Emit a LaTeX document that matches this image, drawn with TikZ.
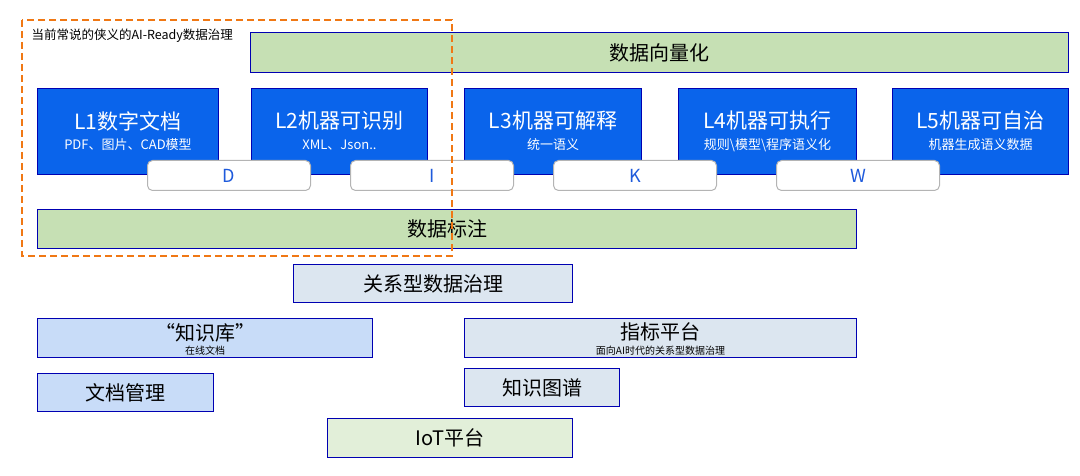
\documentclass[tikz,border=0pt]{standalone}
\usepackage{fontspec}
\setmainfont{Noto Sans CJK SC}
\begin{document}
\begin{tikzpicture}[x=1pt,y=-1pt,
 box/.style={draw=blue!70!black,line width=1pt,anchor=north west,inner sep=0pt},
 green/.style={box,fill={rgb,255:red,198;green,224;blue,180}},
 lgreen/.style={box,fill={rgb,255:red,226;green,239;blue,217}},
 gray/.style={box,fill={rgb,255:red,220;green,230;blue,240}},
 lblue/.style={box,fill={rgb,255:red,200;green,220;blue,248}},
 lvl/.style={box,fill={rgb,255:red,10;green,100;blue,235}},
 dikw/.style={draw={rgb,255:red,180;green,180;blue,180},fill=white,rounded corners=5pt,line width=1pt,minimum width=163pt,minimum height=30pt,anchor=north west,text={rgb,255:red,30;green,90;blue,220},font=\fontsize{18}{20}\selectfont},
 t/.style={font=\fontsize{20}{22}\selectfont},
 sub/.style={font=\fontsize{10}{11}\selectfont,inner sep=0pt}]
\useasboundingbox (0,0) rectangle (1080,476);
\node[green,minimum width=818pt,minimum height=40pt,t] (vec) at (250,32) {数据向量化};
\foreach \n/\x/\w/\a/\b in {l1/37/181/L1数字文档/{PDF、图片、CAD模型},l2/251/176/L2机器可识别/{XML、Json..},l3/464/177/L3机器可解释/统一语义,l4/678/178/L4机器可执行/规则\textbackslash 模型\textbackslash 程序语义化,l5/892/176/L5机器可自治/机器生成语义数据}{
 \node[lvl,minimum width=\w pt,minimum height=86pt] (\n) at (\x,88) {};
 \node[text=white,font=\fontsize{21}{22}\selectfont,inner sep=0pt] (\n t) at ([yshift=-33pt]\n.north) {\a};
 \node[text=white,font=\fontsize{13}{14}\selectfont,inner sep=0pt] (\n s) at ([yshift=-57pt]\n.north) {\b};
}
\node[dikw] (d) at (147,160) {D};
\node[dikw] (i) at (350,160) {I};
\node[dikw] (k) at (553,160) {K};
\node[dikw] (w) at (776,160) {W};
\node[green,minimum width=819pt,minimum height=39pt,t] (ann) at (37,209) {数据标注};
\node[gray,minimum width=279pt,minimum height=38pt,t] (rel) at (293,264) {关系型数据治理};
\node[lblue,minimum width=335pt,minimum height=39pt] (kb) at (37,318) {};
\node[t,inner sep=0pt] (kbt) at ([yshift=-15pt]kb.north) {“知识库”};
\node[sub] (kbs) at ([yshift=-33pt]kb.north) {在线文档};
\node[gray,minimum width=392pt,minimum height=39pt] (ind) at (464,318) {};
\node[t,inner sep=0pt] (indt) at ([yshift=-14pt]ind.north) {指标平台};
\node[sub] (inds) at ([yshift=-33pt]ind.north) {面向AI时代的关系型数据治理};
\node[lblue,minimum width=176pt,minimum height=38pt,t] (doc) at (37,373) {文档管理};
\node[gray,minimum width=155pt,minimum height=38pt,t] (kg) at (464,368) {知识图谱};
\node[lgreen,minimum width=245pt,minimum height=39pt,t] (iot) at (327,418) {IoT平台};
\draw[dashed,dash pattern=on 7pt off 4pt,line width=2pt,color={rgb,255:red,240;green,120;blue,20}] (22,20) rectangle (452,256);
\node[anchor=west,font=\fontsize{12.5}{14}\selectfont] (lab) at (28,36) {当前常说的侠义的AI-Ready数据治理};
\end{tikzpicture}
\end{document}
